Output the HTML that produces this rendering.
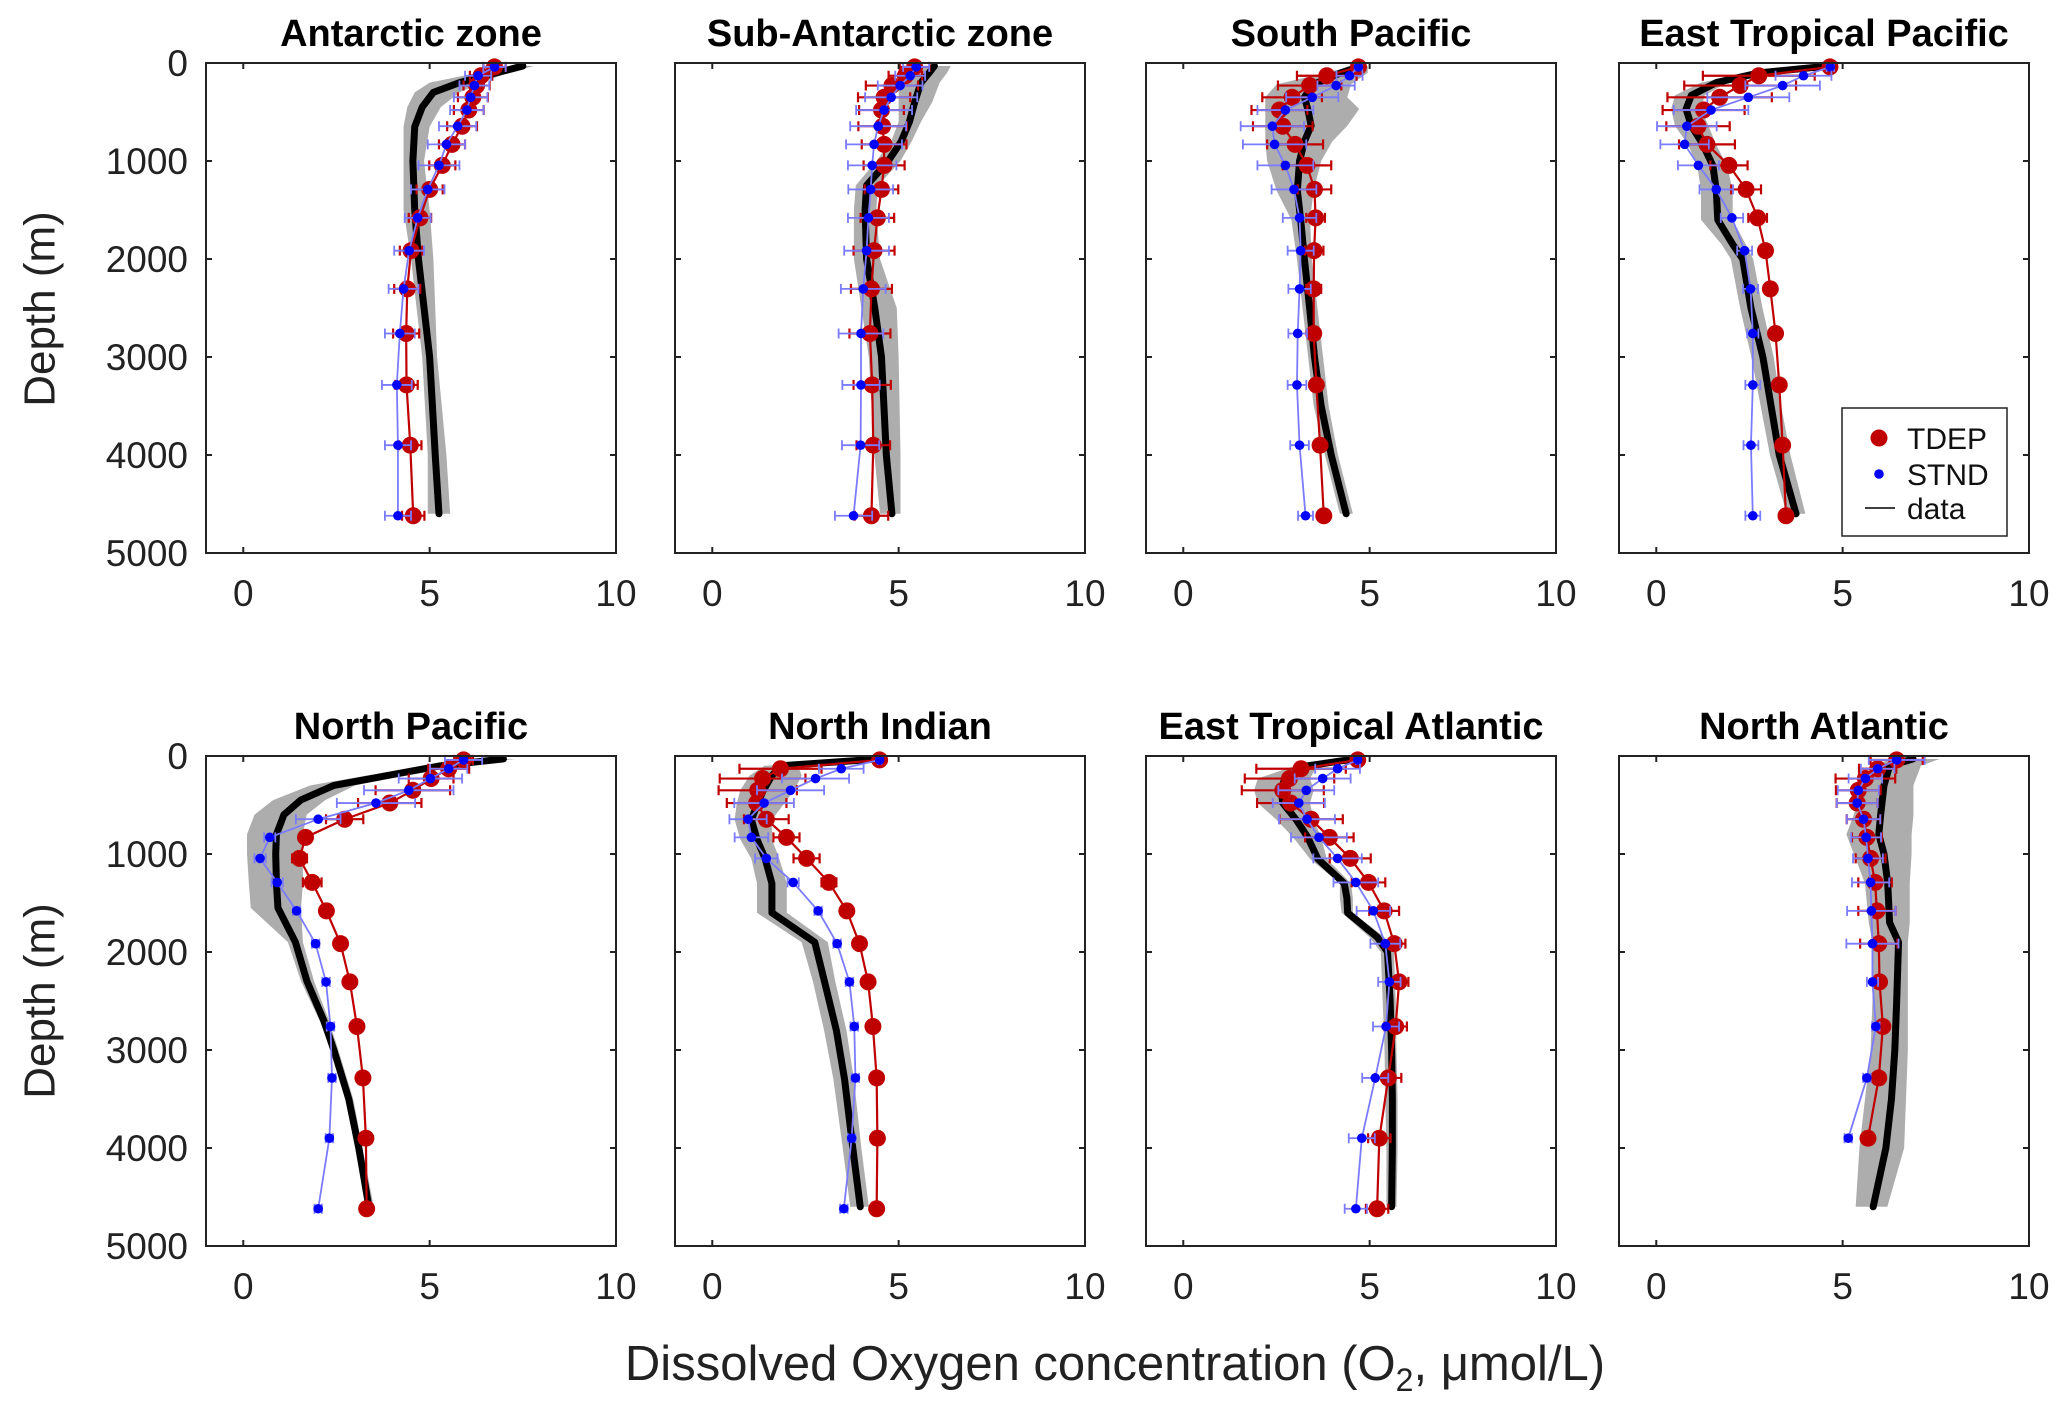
<!DOCTYPE html>
<html><head><meta charset="utf-8"><style>
html,body{margin:0;padding:0;background:#fff;}
svg{display:block;font-family:"Liberation Sans",sans-serif;}
</style></head><body>
<svg id="fig" width="2067" height="1403" viewBox="0 0 2067 1403" xmlns="http://www.w3.org/2000/svg">
<text x="40" y="309" transform="rotate(-90 40 309)" text-anchor="middle" dominant-baseline="central" font-size="44" fill="#222">Depth (m)</text>
<text x="40" y="1001" transform="rotate(-90 40 1001)" text-anchor="middle" dominant-baseline="central" font-size="44" fill="#222">Depth (m)</text>
<text x="1115" y="1380" text-anchor="middle" font-size="49" fill="#222">Dissolved Oxygen concentration (O<tspan font-size="32" dy="11">2</tspan><tspan dy="-11">, μmol/L)</tspan></text>
</svg>
<script>
// ---- data ----
const depthLevels = [40,130,230,350,480,645,830,1045,1290,1580,1915,2305,2760,3285,3900,4620];
const panelTitles = ["Antarctic zone","Sub-Antarctic zone","South Pacific","East Tropical Pacific","North Pacific","North Indian","East Tropical Atlantic","North Atlantic"];
const xTicks = [0,5,10];
const yTicks = [0,1000,2000,3000,4000,5000];

const antTdep = [6.74,6.38,6.26,6.16,6.05,5.87,5.6,5.34,5.0,4.74,4.5,4.4,4.37,4.38,4.48,4.56];
const antStnd = [6.74,6.3,6.2,6.1,6.0,5.75,5.45,5.25,4.95,4.68,4.45,4.3,4.2,4.12,4.15,4.15];
const antTErr = [0.3,0.3,0.35,0.4,0.4,0.4,0.35,0.35,0.35,0.3,0.3,0.35,0.35,0.3,0.3,0.3];
const antSErr = [0.3,0.35,0.4,0.45,0.45,0.5,0.5,0.55,0.45,0.35,0.4,0.4,0.4,0.4,0.35,0.35];
const antDataDepth = [30,100,200,300,450,650,1000,1500,2000,3000,4000,4600];
const antData = [7.5,6.8,5.8,5.1,4.8,4.6,4.55,4.6,4.7,5.0,5.15,5.25];
const antLo = [7.2,6.3,5.0,4.6,4.4,4.3,4.3,4.3,4.5,4.8,4.95,4.95];
const antHi = [7.8,7.1,6.4,5.8,5.3,5.0,4.85,5.0,5.1,5.2,5.45,5.55];

const subTdep = [5.43,5.18,4.82,4.61,4.54,4.57,4.61,4.61,4.54,4.43,4.34,4.27,4.23,4.29,4.32,4.27];
const subStnd = [5.47,5.31,5.04,4.80,4.61,4.45,4.34,4.29,4.25,4.19,4.14,4.05,3.99,3.99,3.98,3.79];
const subTErr = [0.4,0.45,0.7,0.7,0.6,0.65,0.6,0.55,0.45,0.45,0.55,0.55,0.55,0.5,0.45,0.45];
const subSErr = [0.35,0.4,0.6,0.7,0.75,0.75,0.75,0.65,0.6,0.55,0.6,0.6,0.6,0.5,0.5,0.5];
const subDataDepth = [30,100,200,400,600,800,1000,1250,1500,2000,2500,3000,4000,4600];
const subData = [5.96,5.82,5.6,5.43,5.29,5.07,4.72,4.14,4.1,4.14,4.36,4.54,4.67,4.82];
const subLo = [5.6,5.3,5.0,5.0,5.0,4.8,4.4,3.85,3.8,3.8,4.0,4.2,4.35,4.5];
const subHi = [6.4,6.3,6.1,5.9,5.6,5.35,5.05,4.45,4.4,4.5,4.95,5.0,5.05,5.05];

const spTdep = [4.70,3.85,3.39,2.92,2.58,2.67,3.00,3.32,3.52,3.55,3.51,3.50,3.50,3.57,3.67,3.77];
const spStnd = [4.70,4.46,4.10,3.46,2.74,2.39,2.45,2.74,2.97,3.12,3.15,3.12,3.07,3.05,3.12,3.28];
const spTErr = [0.1,0.8,0.85,0.8,0.75,0.8,0.75,0.65,0.45,0.25,0.25,0.2,0.1,0.1,0.1,0.1];
const spSErr = [0.1,0.35,0.5,0.7,0.75,0.85,0.85,0.75,0.6,0.45,0.35,0.3,0.25,0.25,0.25,0.2];
const spDataDepth = [30,100,220,350,470,640,800,1000,1300,1600,2000,2500,3000,3500,4000,4600];
const spData = [4.77,4.23,3.48,3.25,3.34,3.43,3.25,3.12,3.06,3.15,3.25,3.39,3.52,3.7,3.97,4.37];
const spLo = [4.6,3.8,2.5,2.2,2.2,2.2,2.2,2.25,2.5,2.9,3.05,3.2,3.35,3.5,3.8,4.2];
const spHi = [4.95,4.95,4.5,4.4,4.72,4.4,4.0,3.7,3.5,3.4,3.45,3.6,3.75,3.9,4.15,4.55];

const etpTdep = [4.66,2.75,2.25,1.70,1.27,1.12,1.36,1.95,2.41,2.72,2.93,3.06,3.20,3.30,3.39,3.48];
const etpStnd = [4.67,3.95,3.39,2.47,1.47,0.82,0.76,1.13,1.61,2.03,2.37,2.53,2.59,2.59,2.54,2.59];
const etpTErr = [0.05,1.5,1.5,1.4,1.1,0.85,0.75,0.5,0.4,0.25,0.15,0.05,0.05,0.05,0.05,0.05];
const etpSErr = [0.1,0.75,1.0,1.1,1.0,0.8,0.65,0.55,0.45,0.3,0.2,0.2,0.15,0.2,0.2,0.2];
const etpDataDepth = [30,100,200,330,470,640,830,1050,1300,1600,1850,2000,2500,3000,3500,4000,4600];
const etpData = [4.64,2.77,1.61,0.94,0.80,0.94,1.25,1.52,1.61,1.65,2.05,2.32,2.54,2.86,3.08,3.30,3.75];
const etpLo = [4.5,2.5,1.2,0.5,0.4,0.5,0.85,1.1,1.2,1.2,1.75,2.0,2.25,2.55,2.8,3.05,3.5];
const etpHi = [4.8,3.1,1.9,1.3,1.2,1.4,1.6,1.9,2.05,2.05,2.4,2.6,2.85,3.15,3.35,3.6,4.0];

const npTdep = [5.91,5.51,5.04,4.55,3.93,2.72,1.67,1.51,1.85,2.23,2.61,2.86,3.05,3.21,3.29,3.31];
const npStnd = [5.91,5.51,5.02,4.44,3.56,2.01,0.71,0.45,0.91,1.43,1.94,2.22,2.34,2.38,2.31,2.01];
const npTErr = [0.25,0.55,0.6,1.0,0.85,0.5,0.1,0.2,0.25,0.1,0.1,0.1,0.1,0.1,0.1,0.1];
const npSErr = [0.5,0.5,0.85,1.2,1.05,0.6,0.15,0.15,0.15,0.1,0.1,0.1,0.1,0.1,0.1,0.1];
const npDataDepth = [30,100,200,300,450,600,800,1000,1300,1550,1900,2300,2700,3000,3500,4000,4600];
const npData = [6.98,5.29,3.86,2.43,1.54,1.09,0.89,0.87,0.89,0.93,1.4,1.71,2.16,2.43,2.83,3.1,3.37];
const npLo = [7.0,5.0,3.3,1.8,0.8,0.3,0.1,0.1,0.15,0.2,1.2,1.55,2.05,2.35,2.75,3.0,3.3];
const npHi = [7.3,5.6,4.3,3.0,2.2,1.7,1.6,1.6,1.6,1.55,1.6,1.9,2.3,2.55,2.95,3.2,3.5];

const niTdep = [4.49,1.83,1.35,1.22,1.19,1.45,1.99,2.53,3.13,3.61,3.95,4.18,4.31,4.41,4.43,4.41];
const niStnd = [4.49,3.46,2.77,2.10,1.39,0.96,1.05,1.45,2.17,2.84,3.35,3.68,3.81,3.84,3.74,3.53];
const niTErr = [0.05,1.1,1.15,1.05,0.8,0.6,0.35,0.35,0.2,0.1,0.1,0.1,0.1,0.1,0.1,0.1];
const niSErr = [0.05,0.6,0.9,0.9,0.8,0.5,0.45,0.3,0.15,0.1,0.1,0.1,0.1,0.1,0.1,0.1];
const niDataDepth = [30,100,200,350,500,650,850,1050,1300,1600,1900,2300,2800,3300,4000,4600];
const niData = [4.48,1.86,1.6,1.37,1.2,1.05,1.2,1.42,1.6,1.6,2.75,3.01,3.33,3.55,3.77,3.97];
const niLo = [4.4,1.4,1.0,0.75,0.65,0.6,0.75,1.05,1.2,1.2,2.4,2.7,3.0,3.25,3.5,3.7];
const niHi = [4.55,2.3,2.4,2.2,1.9,1.6,1.6,1.8,2.0,2.0,3.1,3.3,3.6,3.8,4.0,4.2];

const etaTdep = [4.68,3.16,2.85,2.67,2.88,3.43,3.92,4.48,4.97,5.39,5.66,5.79,5.70,5.50,5.26,5.20];
const etaStnd = [4.68,4.14,3.74,3.30,3.10,3.32,3.64,4.14,4.63,5.10,5.42,5.53,5.44,5.15,4.79,4.63];
const etaTErr = [0.05,1.2,1.2,1.1,0.9,0.85,0.65,0.55,0.45,0.4,0.3,0.25,0.3,0.35,0.3,0.3];
const etaSErr = [0.05,0.6,0.75,0.75,0.7,0.75,0.75,0.65,0.6,0.45,0.4,0.3,0.35,0.35,0.35,0.3];
const etaDataDepth = [30,100,230,350,480,650,830,1050,1300,1450,1600,1850,2000,2500,3000,3500,4000,4600];
const etaData = [4.59,3.34,2.72,2.63,2.67,3.03,3.34,3.61,4.32,4.39,4.41,5.21,5.48,5.55,5.59,5.61,5.61,5.59];
const etaLo = [4.5,3.0,2.0,1.9,2.0,2.5,2.95,3.4,4.2,4.2,4.25,5.0,5.3,5.35,5.4,5.42,5.45,5.45];
const etaHi = [4.7,3.6,3.4,3.5,3.4,3.5,3.7,3.85,4.5,4.55,4.55,5.4,5.65,5.7,5.72,5.75,5.75,5.72];

const naTdep = [6.45,5.94,5.61,5.42,5.39,5.56,5.65,5.75,5.87,5.92,5.97,5.99,6.08,5.97,5.68];
const naStnd = [6.45,5.94,5.61,5.42,5.39,5.56,5.63,5.68,5.75,5.77,5.80,5.80,5.89,5.65,5.15];
const naTErr = [0.7,0.5,0.8,0.6,0.55,0.45,0.4,0.4,0.45,0.5,0.5,0.05,0.05,0.05,0.05];
const naSErr = [0.75,0.45,0.45,0.55,0.55,0.45,0.4,0.4,0.5,0.65,0.7,0.15,0.1,0.1,0.1];
const naDataDepth = [30,100,300,600,800,1000,1300,1700,1900,2500,3000,3500,4000,4600];
const naData = [6.89,6.26,6.11,6.02,5.97,6.11,6.21,6.26,6.5,6.45,6.40,6.31,6.16,5.82];
const naLo = [6.3,5.8,5.5,5.3,5.1,5.3,5.6,5.7,5.8,5.8,5.75,5.6,5.45,5.35];
const naHi = [7.6,7.1,6.9,6.9,6.85,6.85,6.8,6.8,6.75,6.75,6.75,6.7,6.65,6.2];

const panels = [
 [antTdep,antStnd,antTErr,antSErr,antDataDepth,antData,antLo,antHi],
 [subTdep,subStnd,subTErr,subSErr,subDataDepth,subData,subLo,subHi],
 [spTdep,spStnd,spTErr,spSErr,spDataDepth,spData,spLo,spHi],
 [etpTdep,etpStnd,etpTErr,etpSErr,etpDataDepth,etpData,etpLo,etpHi],
 [npTdep,npStnd,npTErr,npSErr,npDataDepth,npData,npLo,npHi],
 [niTdep,niStnd,niTErr,niSErr,niDataDepth,niData,niLo,niHi],
 [etaTdep,etaStnd,etaTErr,etaSErr,etaDataDepth,etaData,etaLo,etaHi],
 [naTdep,naStnd,naTErr,naSErr,naDataDepth,naData,naLo,naHi]
];

// ---- drawing ----
const NS="http://www.w3.org/2000/svg";
const svg=document.getElementById('fig');
const lefts=[206,675,1146,1619], tops=[63,756], W=410, H=490;
const XMIN=-1, XMAX=10, DMAX=5000;
function mk(tag,attrs,parent){const e=document.createElementNS(NS,tag);for(const k in attrs)e.setAttribute(k,attrs[k]);(parent||svg).appendChild(e);return e;}

panels.forEach((p,i)=>{
  const L=lefts[i%4], T=tops[Math.floor(i/4)];
  const sx=v=>L+(v-XMIN)/(XMAX-XMIN)*W;
  const sy=d=>T+d/DMAX*H;
  const [tdep,stnd,tErr,sErr,dd,dv,lo,hi]=p;
  const g=mk('g',{});
  
  
  const title=mk('text',{x:L+W/2,y:T-17,'text-anchor':'middle','font-size':38,'font-weight':'bold',fill:'#000'},g);
  title.textContent=panelTitles[i];
  
  
  let pts=dd.map((d,k)=>sx(hi[k])+','+sy(d));
  pts=pts.concat(dd.slice().reverse().map((d,k)=>sx(lo[dd.length-1-k])+','+sy(d)));
  const band=mk('polygon',{points:pts.join(' '),fill:'#adadad'},g);
  
  
  const dl=mk('polyline',{points:dd.map((d,k)=>sx(dv[k])+','+sy(d)).join(' '),fill:'none',stroke:'#000','stroke-width':7,'stroke-linejoin':'round','stroke-linecap':'round'},g);
  
  
  const tl=mk('polyline',{points:tdep.map((v,k)=>sx(v)+','+sy(depthLevels[k])).join(' '),fill:'none',stroke:'#c00000','stroke-width':2.2},g);
  
  
  tdep.forEach((v,k)=>{
    const y=sy(depthLevels[k]),e=tErr[k];
    const eb=mk('path',{d:`M${sx(v-e)},${y}H${sx(v+e)}M${sx(v-e)},${y-5}V${y+5}M${sx(v+e)},${y-5}V${y+5}`,stroke:'#c00000','stroke-width':2.2,fill:'none'},g);
    
    
    const c=mk('circle',{cx:sx(v),cy:y,r:8.5,fill:'#c00000'},g);
    
    
  });
  const sl=mk('polyline',{points:stnd.map((v,k)=>sx(v)+','+sy(depthLevels[k])).join(' '),fill:'none',stroke:'#7b7bff','stroke-width':1.8},g);
  
  
  stnd.forEach((v,k)=>{
    const y=sy(depthLevels[k]),e=sErr[k];
    const eb=mk('path',{d:`M${sx(v-e)},${y}H${sx(v+e)}M${sx(v-e)},${y-5}V${y+5}M${sx(v+e)},${y-5}V${y+5}`,stroke:'#7b7bff','stroke-width':1.8,fill:'none'},g);
    
    
    const c=mk('circle',{cx:sx(v),cy:y,r:4.8,fill:'#0000ff'},g);
    
    
  });
  const fr=mk('rect',{x:L,y:T,width:W,height:H,fill:'none',stroke:'#222','stroke-width':2},g);
  
  
  xTicks.forEach(t=>{
    const x=sx(t);
    if(t<XMAX) mk('path',{d:`M${x},${T}v6M${x},${T+H}v-6`,stroke:'#222','stroke-width':2},g);
    const tx=mk('text',{x:x,y:T+H+53,'text-anchor':'middle','font-size':37,fill:'#222'},g);
    tx.textContent=t;
    
    
  });
  yTicks.forEach(t=>{
    const y=sy(t);
    if(t>0&&t<DMAX) mk('path',{d:`M${L},${y}h6M${L+W},${y}h-6`,stroke:'#222','stroke-width':2},g);
    if(i%4===0){
      const ty=mk('text',{x:L-18,y:y+13,'text-anchor':'end','font-size':37,fill:'#222'},g);
      ty.textContent=t;
      
      
    }
  });
});

const lg=mk('g',{});


mk('rect',{x:1842,y:408,width:165,height:128,fill:'#fff',stroke:'#222','stroke-width':1.5},lg);
const l1=mk('circle',{cx:1879,cy:438,r:8.5,fill:'#c00000'},lg);


const l2=mk('circle',{cx:1879,cy:474,r:4.8,fill:'#0000ff'},lg);


const l3=mk('line',{x1:1865,y1:508,x2:1895,y2:508,stroke:'#000','stroke-width':1.5},lg);


[["TDEP",449],["STND",485],["data",519]].forEach(([s,y])=>{
  const t=mk('text',{x:1907,y:y,'font-size':30,fill:'#111'},lg);
  t.textContent=s;
  
  
});
</script>
</body></html>
